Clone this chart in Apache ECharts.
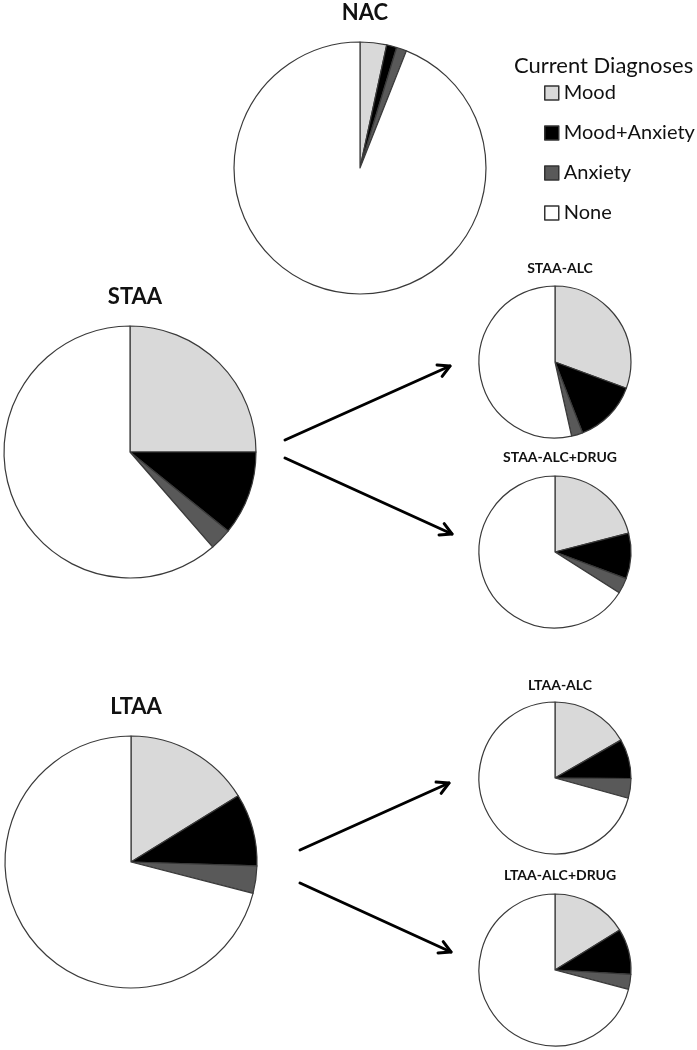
<!DOCTYPE html>
<html>
<head>
<meta charset="utf-8">
<style>
  html, body { margin: 0; padding: 0; background: #fff; }
  #main { width: 697px; height: 1050px; }
</style>
<script src="https://cdn.jsdelivr.net/npm/echarts@6/dist/echarts.min.js"></script>
</head>
<body>
<div id="main"></div>
<script>
// diagnosis categories (clockwise from 12 o'clock)
const categories = ['Mood', 'Mood+Anxiety', 'Anxiety', 'None'];
const colors = ['#d9d9d9', '#000000', '#595959', '#ffffff'];

// percentages per group
const nac = [3.4, 1.3, 1.3, 94.0];
const staa = [25.0, 10.8, 2.8, 61.4];
const staaAlc = [30.6, 13.5, 2.4, 53.5];
const staaAlcDrug = [21.0, 9.7, 3.3, 66.0];
const ltaa = [16.2, 9.3, 3.5, 71.0];
const ltaaAlc = [16.7, 8.4, 4.2, 70.7];
const ltaaAlcDrug = [16.2, 9.7, 3.2, 70.9];

const font = 'Lato, "Open Sans", sans-serif';

// pie layout: name, values, center, radius, title top
const pies = [
  { name: 'NAC', values: nac, center: [360, 168], r: 126, titleTop: -3, big: true },
  { name: 'STAA', values: staa, center: [130, 452], r: 126, titleTop: 281, big: true },
  { name: 'STAA-ALC', values: staaAlc, center: [555, 362], r: 76, titleTop: 256 },
  { name: 'STAA-ALC+DRUG', values: staaAlcDrug, center: [555, 552], r: 76, titleTop: 445 },
  { name: 'LTAA', values: ltaa, center: [131, 862], r: 126, titleTop: 691, big: true },
  { name: 'LTAA-ALC', values: ltaaAlc, center: [555, 778], r: 76, titleTop: 673 },
  { name: 'LTAA-ALC+DRUG', values: ltaaAlcDrug, center: [555, 970], r: 76, titleTop: 863 }
];

function pieSeries(p) {
  return {
    type: 'pie',
    name: p.name,
    center: p.center,
    radius: p.r,
    startAngle: 90,
    clockwise: true,
    silent: true,
    animation: false,
    label: { show: false },
    labelLine: { show: false },
    emphasis: { disabled: true },
    itemStyle: { borderColor: '#3a3a3a', borderWidth: 1.2 },
    data: categories.map(function (c, i) {
      return { name: c, value: p.values[i], itemStyle: { color: colors[i] } };
    })
  };
}

let titles = pies.map(function (p) {
  return {
    text: p.name,
    left: p.center[0],
    top: p.titleTop,
    textAlign: 'center',
    textStyle: {
      fontFamily: font,
      fontWeight: 'bold',
      fontSize: p.big ? 22 : 14,
      color: '#111'
    }
  };
});
titles.push({
  text: 'Current Diagnoses',
  left: 509,
  top: 50,
  textStyle: { fontFamily: font, fontWeight: 'normal', fontSize: 22, color: '#111' }
});

// arrows [x1, y1, x2, y2]
const arrows = [
  [285, 440, 450, 366],
  [285, 458, 452, 534],
  [300, 850, 449, 783],
  [300, 883, 451, 952]
];

function arrowGraphic(a) {
  const ang = Math.atan2(a[3] - a[1], a[2] - a[0]);
  const len = 13, spread = 0.5;
  const p1 = [a[2] - len * Math.cos(ang - spread), a[3] - len * Math.sin(ang - spread)];
  const p2 = [a[2] - len * Math.cos(ang + spread), a[3] - len * Math.sin(ang + spread)];
  const st = { stroke: '#000', lineWidth: 3, lineCap: 'round', lineJoin: 'round', fill: null };
  return [
    { type: 'line', shape: { x1: a[0], y1: a[1], x2: a[2], y2: a[3] }, style: st, silent: true },
    { type: 'polyline', shape: { points: [p1, [a[2], a[3]], p2] }, style: st, silent: true }
  ];
}

const chart = echarts.init(document.getElementById('main'), null, { renderer: 'canvas' });
chart.setOption({
  backgroundColor: '#fff',
  animation: false,
  title: titles,
  legend: {
    orient: 'vertical',
    left: 539,
    top: 78,
    itemWidth: 14,
    itemHeight: 14,
    itemGap: 20,
    icon: 'rect',
    selectedMode: false,
    data: categories,
    itemStyle: { borderColor: '#333', borderWidth: 1.5 },
    textStyle: { fontFamily: font, fontSize: 20, color: '#111', lineHeight: 20 }
  },
  graphic: arrows.reduce(function (acc, a) { return acc.concat(arrowGraphic(a)); }, []),
  series: pies.map(pieSeries)
});
</script>
</body>
</html>
